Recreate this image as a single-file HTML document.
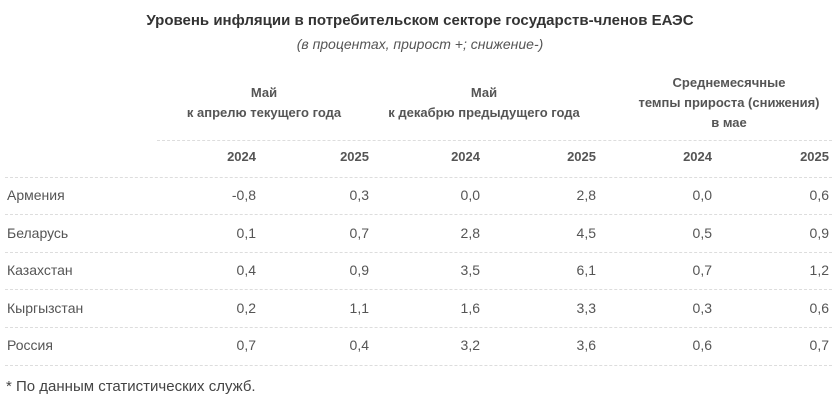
<!DOCTYPE html>
<html><head><meta charset="utf-8"><style>
body{margin:0;width:840px;height:401px;background:#fff;font-family:"Liberation Sans",Arial,sans-serif;color:#555;position:relative;overflow:hidden}
.a{position:absolute;white-space:nowrap;line-height:1}
.ln{position:absolute;height:0;border-top:1px dashed #ddd}
.t{font-size:14px}
.h{font-weight:bold;font-size:13px;text-align:center;line-height:20px}
</style></head><body>
<div class="a" style="left:0;width:840px;text-align:center;top:13px;font-size:15px;font-weight:bold;color:#333">Уровень инфляции в потребительском секторе государств-членов ЕАЭС</div>
<div class="a" style="left:0;width:840px;text-align:center;top:37px;font-size:14px;font-style:italic;color:#555">(в процентах, прирост +; снижение-)</div>
<div class="a h" style="left:164px;width:200px;top:83px">Май<br>к апрелю текущего года</div>
<div class="a h" style="left:384px;width:200px;top:83px">Май<br>к декабрю предыдущего года</div>
<div class="a h" style="left:619px;width:220px;top:73px">Среднемесячные<br>темпы прироста (снижения)<br>в мае</div>
<div id="tbl"></div>
<div class="a" style="left:6px;top:379px;font-size:15px;color:#444">* По данным статистических служб.</div>
<script>
const countries=["Армения","Беларусь","Казахстан","Кыргызстан","Россия"];
const years=["2024","2025","2024","2025","2024","2025"];
const aprilVals=[["-0,8","0,3"],["0,1","0,7"],["0,4","0,9"],["0,2","1,1"],["0,7","0,4"]];
const decVals=[["0,0","2,8"],["2,8","4,5"],["3,5","6,1"],["1,6","3,3"],["3,2","3,6"]];
const avgVals=[["0,0","0,6"],["0,5","0,9"],["0,7","1,2"],["0,3","0,6"],["0,6","0,7"]];
const colRight=[256,369,480,596,712,829];
const rowY0=195, rowStep=37.6;
const t=document.getElementById('tbl');
function mk(cls,txt,style){const d=document.createElement('div');d.className=cls;d.textContent=txt;d.style.cssText=style;t.appendChild(d);return d;}
const hl=mk('ln','','left:157px;width:675px;top:140px');


years.forEach((y,i)=>{const d=mk('a h',y,'right:'+(840-colRight[i])+'px;top:150px;line-height:14px');

});
countries.forEach((c,r)=>{
const yc=rowY0+r*rowStep;
const l=mk('ln','','left:5px;width:827px;top:'+Math.round(yc-18.5)+'px');


const n=mk('a t',c,'left:7px;top:'+Math.round(yc-7)+'px;color:#555');


const vals=[...aprilVals[r],...decVals[r],...avgVals[r]];
vals.forEach((v,i)=>{const d=mk('a t',v,'right:'+(840-colRight[i])+'px;top:'+Math.round(yc-7)+'px');

});
});
const bl=mk('ln','','left:5px;width:827px;top:'+Math.round(rowY0+5*rowStep-18.5)+'px');


</script>
</body></html>
